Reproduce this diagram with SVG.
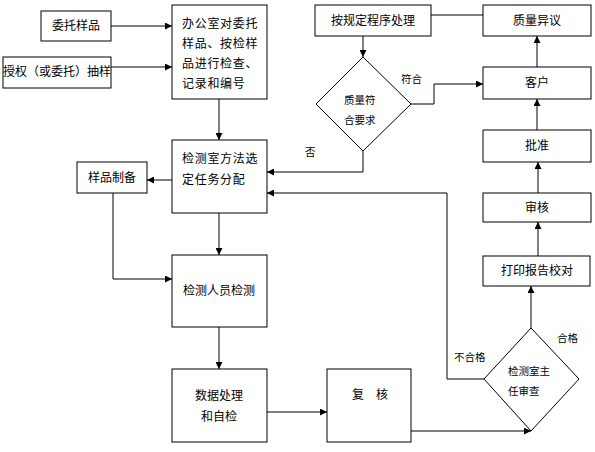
<svg xmlns="http://www.w3.org/2000/svg" width="595" height="452" viewBox="0 0 595 452">
<style>
.box{fill:#fff;stroke:#000;stroke-width:1}
.t{font-family:"Liberation Sans","Noto Sans CJK SC",sans-serif;font-size:12px;fill:#000}
.c{text-anchor:middle}
.s{font-size:10.5px}
.w{letter-spacing:0.7px}
.ln{fill:none;stroke:#000;stroke-width:1}
.arr{marker-end:url(#ah)}
</style>
<defs>
<marker id="ah" viewBox="0 0 10 10" refX="10" refY="5" markerWidth="8" markerHeight="7" markerUnits="userSpaceOnUse" orient="auto">
<path d="M0,0 L10,5 L0,10 z" fill="#000"/>
</marker>
</defs>
<rect width="595" height="452" fill="#fff"/>
<g id="connectors">
<path class="ln arr" d="M111,26 H172"/>
<path class="ln arr" d="M111,67 H172"/>
<path class="ln arr" d="M219,99 V140"/>
<path class="ln arr" d="M172,180 H147"/>
<path class="ln arr" d="M113,193 V279 H172"/>
<path class="ln arr" d="M219,213 V255"/>
<path class="ln arr" d="M219,327 V369"/>
<path class="ln arr" d="M267,412 H327"/>
<path class="ln arr" d="M411,431 H531"/>
<path class="ln arr" d="M531,328 V286"/>
<path class="ln arr" d="M538,256 V222"/>
<path class="ln arr" d="M538,193 V162"/>
<path class="ln arr" d="M537,130 V99"/>
<path class="ln arr" d="M537,67 V36"/>
<path class="ln" d="M483,15 H431"/>
<path class="ln arr" d="M363,36 V57"/>
<path class="ln arr" d="M411,104 H434 V84 H483"/>
<path class="ln arr" d="M363,151 V172 H267"/>
<path class="ln arr" d="M484,379 H447 V193 H267"/>
<text class="t s" x="401" y="83">符合</text>
<text class="t s" x="305" y="156">否</text>
<text class="t s" x="454" y="361">不合格</text>
<text class="t s" x="557" y="342">合格</text>
</g>
<g id="n-weituo">
<rect class="box" x="41" y="11" width="70" height="30"/>
<text class="t c" x="76" y="30">委托样品</text>
</g>
<g id="n-shouquan">
<rect class="box" x="3" y="57" width="108" height="31"/>
<text class="t c" x="57" y="76">授权（或委托）抽样</text>
</g>
<g id="n-office">
<rect class="box" x="172" y="5" width="95" height="94"/>
<text class="t w" x="182" y="28">办公室对委托</text>
<text class="t w" x="182" y="48">样品、按检样</text>
<text class="t w" x="182" y="68">品进行检查、</text>
<text class="t w" x="182" y="88">记录和编号</text>
</g>
<g id="n-assign">
<rect class="box" x="172" y="140" width="95" height="73"/>
<text class="t w" x="182" y="163">检测室方法选</text>
<text class="t w" x="182" y="184">定任务分配</text>
</g>
<g id="n-prep">
<rect class="box" x="77" y="162" width="70" height="31"/>
<text class="t c" x="112" y="182">样品制备</text>
</g>
<g id="n-test">
<rect class="box" x="172" y="255" width="95" height="72"/>
<text class="t c" x="219" y="295">检测人员检测</text>
</g>
<g id="n-data">
<rect class="box" x="172" y="369" width="95" height="73"/>
<text class="t c" x="219" y="400">数据处理</text>
<text class="t c" x="219" y="421">和自检</text>
</g>
<g id="n-recheck">
<rect class="box" x="327" y="369" width="84" height="73"/>
<text class="t c" x="370" y="399" xml:space="preserve" style="word-spacing:2.7px">复  核</text>
</g>
<g id="n-director">
<path class="box" d="M531,328 L579,379 L531,431 L484,379 Z"/>
<text class="t s" x="508" y="375">检测室主</text>
<text class="t s" x="508" y="395">任审查</text>
</g>
<g id="n-print">
<rect class="box" x="483" y="256" width="107" height="30"/>
<text class="t c" x="537" y="275">打印报告校对</text>
</g>
<g id="n-audit">
<rect class="box" x="483" y="193" width="108" height="29"/>
<text class="t c" x="537" y="212">审核</text>
</g>
<g id="n-approve">
<rect class="box" x="483" y="130" width="108" height="32"/>
<text class="t c" x="537" y="150">批准</text>
</g>
<g id="n-client">
<rect class="box" x="483" y="67" width="108" height="32"/>
<text class="t c" x="537" y="87">客户</text>
</g>
<g id="n-objection">
<rect class="box" x="483" y="5" width="108" height="31"/>
<text class="t c" x="537" y="25">质量异议</text>
</g>
<g id="n-procedure">
<rect class="box" x="315" y="5" width="116" height="31"/>
<text class="t c" x="373" y="25">按规定程序处理</text>
</g>
<g id="n-quality">
<path class="box" d="M363,57 L411,104 L363,151 L316,104 Z"/>
<text class="t s" x="344" y="104">质量符</text>
<text class="t s" x="344" y="124">合要求</text>
</g>
</svg>
